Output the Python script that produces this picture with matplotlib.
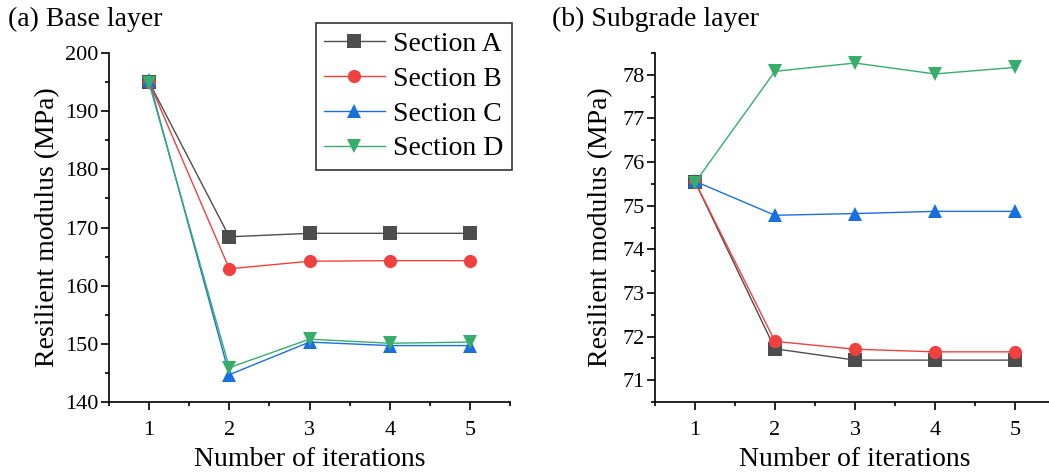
import matplotlib.pyplot as plt
from matplotlib.ticker import MultipleLocator

plt.rcParams["font.family"] = ["Liberation Serif", "DejaVu Serif"]

# =========================
# DATA
# =========================
iterations = [1, 2, 3, 4, 5]
sections = ["Section A", "Section B", "Section C", "Section D"]

base_a = [195.0, 168.4, 169.0, 169.0, 169.0]
base_b = [195.0, 162.9, 164.2, 164.3, 164.3]
base_c = [195.3, 144.7, 150.3, 149.7, 149.7]
base_d = [194.8, 145.9, 150.8, 150.1, 150.3]

sub_a = [75.55, 71.72, 71.46, 71.46, 71.46]
sub_b = [75.55, 71.89, 71.71, 71.65, 71.65]
sub_c = [75.56, 74.78, 74.82, 74.87, 74.87]
sub_d = [75.53, 78.08, 78.27, 78.02, 78.17]

colors = ["#4d4d4d", "#f14040", "#1a6fdf", "#37ad6b"]
markers = ["s", "o", "^", "v"]

fig = plt.figure(figsize=(10.49, 4.72), dpi=100)
ax1 = fig.add_axes([0.1039, 0.1483, 0.3823, 0.7394])
ax2 = fig.add_axes([0.6244, 0.1483, 0.3813, 0.7394])


def draw(ax, series):
    for name, vals, c, m in zip(sections, series, colors, markers):
        ax.plot(iterations, vals, color=c, marker=m, markersize=9.5,
                linewidth=1, label=name, markeredgewidth=0)
    ax.set_xlim(0.5, 5.5)
    ax.xaxis.set_major_locator(MultipleLocator(1))
    ax.xaxis.set_minor_locator(MultipleLocator(0.5))
    for side in ["top", "right"]:
        ax.spines[side].set_visible(False)
    for side in ["left", "bottom"]:
        ax.spines[side].set_linewidth(1.2)
    ax.tick_params(which="major", direction="out", length=5.5, width=1.2,
                   labelsize=16, pad=2)
    ax.tick_params(axis="x", which="major", pad=8)
    ax.tick_params(which="minor", direction="out", length=3, width=1.2)
    ax.set_xlabel("Number of iterations", fontsize=20)
    ax.set_ylabel("Resilient modulus (MPa)", fontsize=20)
    ax.xaxis.set_label_coords(0.5, -0.128)


draw(ax1, [base_a, base_b, base_c, base_d])
ax1.set_ylim(140, 200)
ax1.yaxis.set_major_locator(MultipleLocator(10))
ax1.yaxis.set_minor_locator(MultipleLocator(5))
ax1.yaxis.set_label_coords(-0.122, 0.5)

draw(ax2, [sub_a, sub_b, sub_c, sub_d])
ax2.set_ylim(70.5, 78.5)
ax2.yaxis.set_major_locator(MultipleLocator(1))
ax2.yaxis.set_minor_locator(MultipleLocator(0.5))
ax2.yaxis.set_label_coords(-0.105, 0.5)

leg = ax1.legend(loc="upper right", bbox_to_anchor=(1.005, 1.086), fontsize=20,
                 frameon=True, fancybox=False, edgecolor="black",
                 handlelength=2.2, handletextpad=0.3, borderpad=0.3,
                 labelspacing=0.34, borderaxespad=0)
leg.get_frame().set_linewidth(1.2)

fig.text(0.008, 0.958, "(a) Base layer", fontsize=20, va="center", ha="left")
fig.text(0.526, 0.958, "(b) Subgrade layer", fontsize=20, va="center", ha="left")

plt.savefig("out.png", dpi=100, facecolor="white")
plt.close()
